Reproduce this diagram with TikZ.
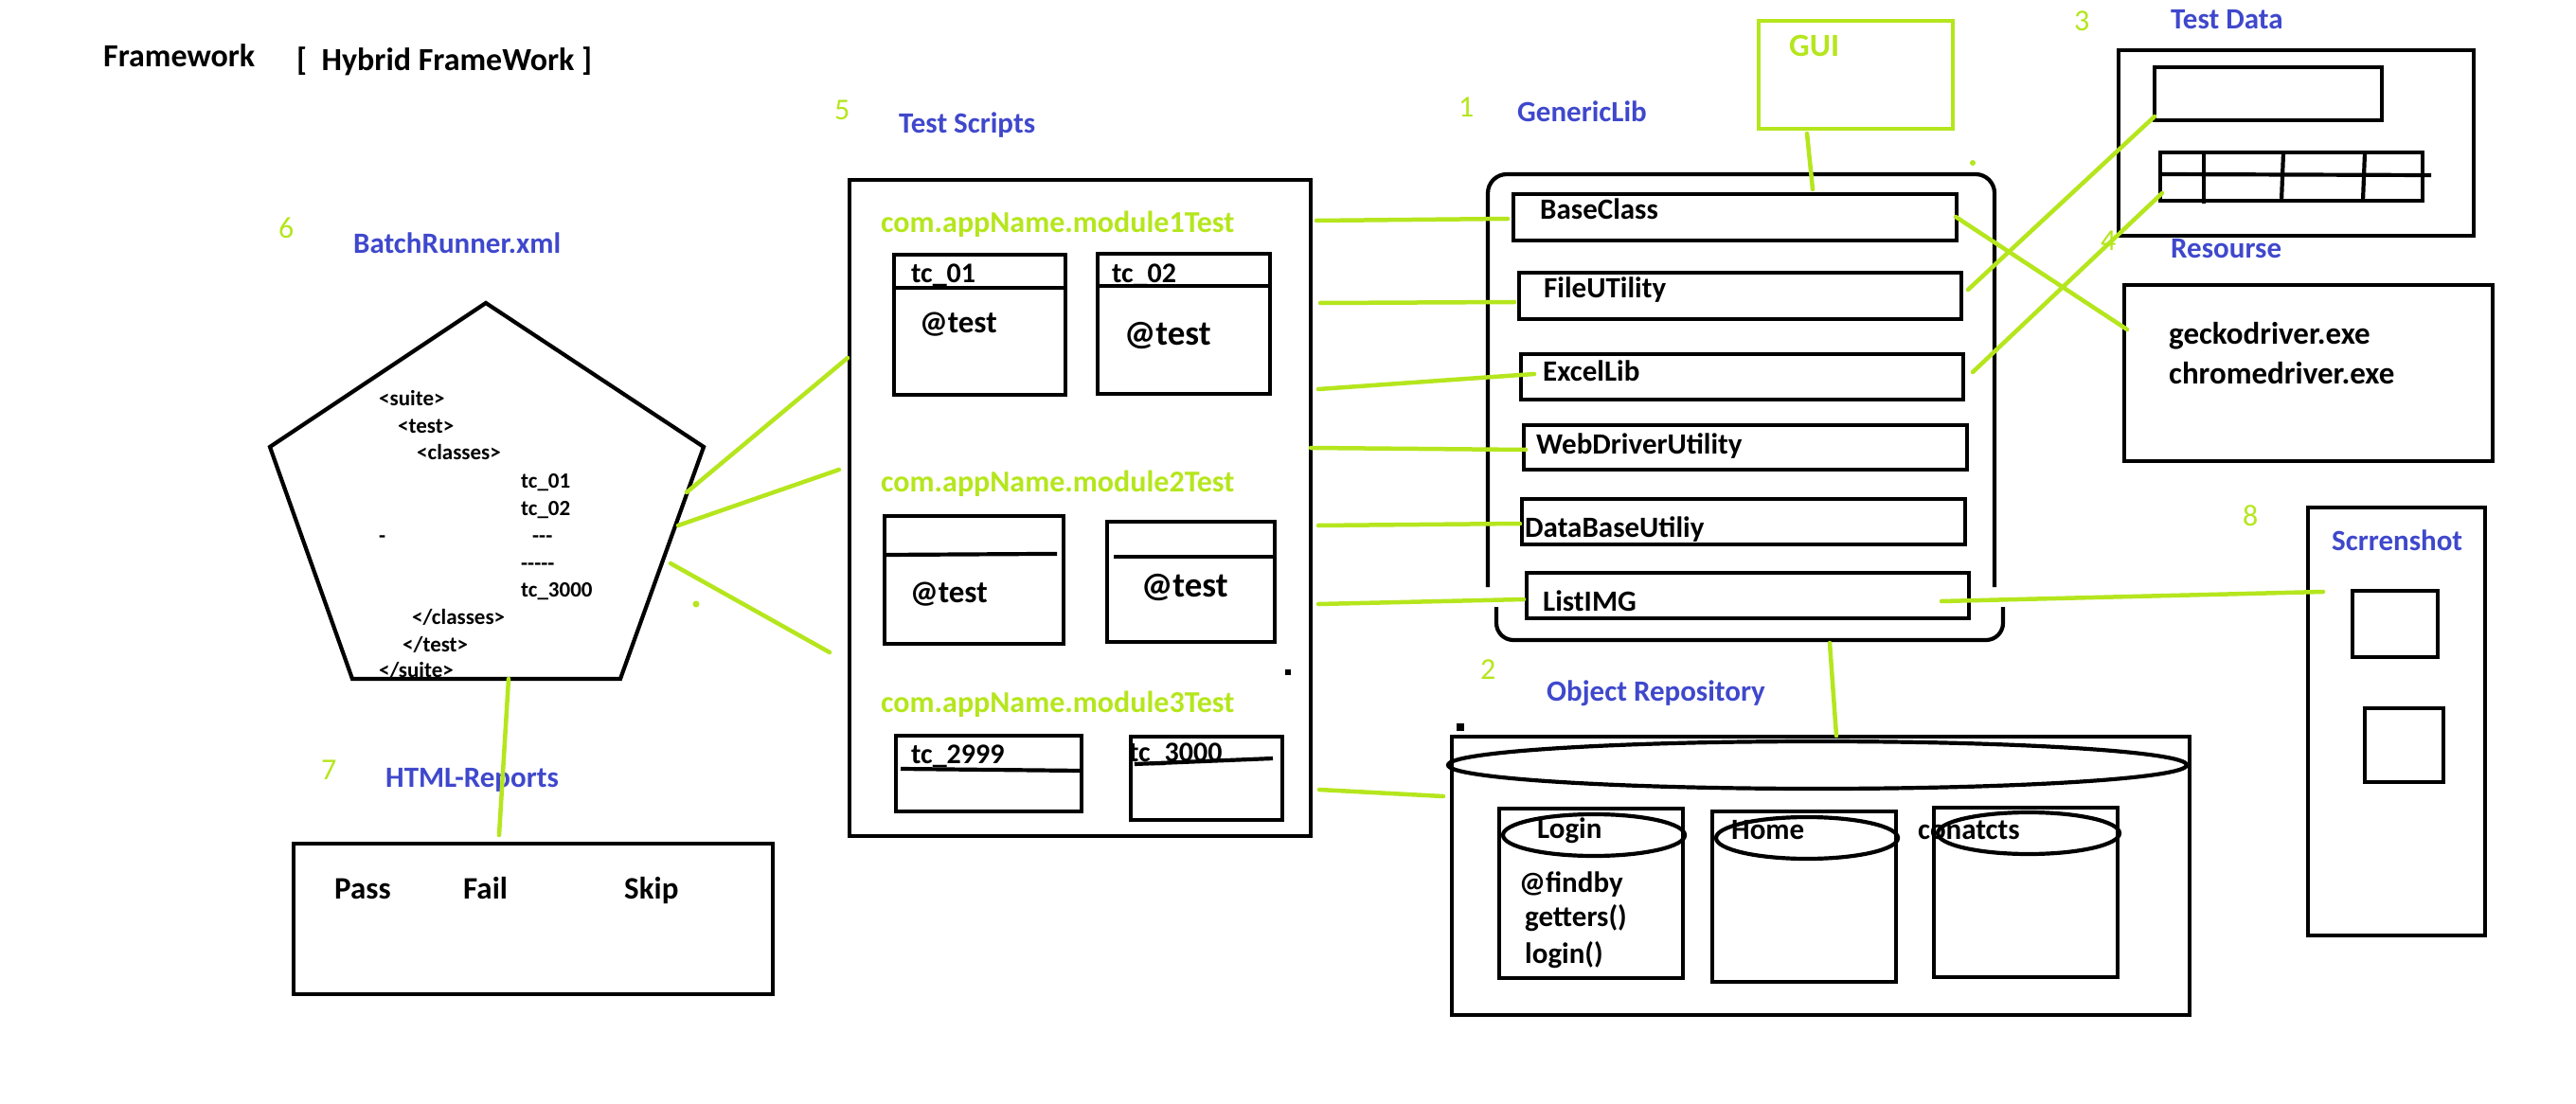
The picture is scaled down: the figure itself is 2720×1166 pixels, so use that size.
\documentclass[tikz,border=0pt]{standalone}
\usepackage{fontspec}
\setmainfont{Carlito}
\usetikzlibrary{shapes.geometric}
\definecolor{plime}{HTML}{B5E61D}
\definecolor{pindigo}{HTML}{3F48CC}
\tikzset{
  bx/.style={draw=black, line width=4.2pt, inner sep=0pt, outer sep=0pt, anchor=north west},
  gbx/.style={bx, draw=plime, line width=4.5pt},
  lnk/.style={draw=plime, line width=4.5pt, line cap=round},
  bl/.style={draw=black, line width=4.2pt},
  tx/.style={inner sep=0pt, anchor=base west, font=\fontsize{31}{31}\selectfont\bfseries},
  lbl/.style={tx, text=pindigo},
  num/.style={inner sep=0pt, anchor=base west, text=plime, font=\fontsize{32}{32}\selectfont},
  ttl/.style={tx, font=\fontsize{34}{34}\selectfont\bfseries},
  pkg/.style={tx, text=plime, font=\fontsize{32}{32}\selectfont\bfseries},
  xml/.style={tx, font=\fontsize{23}{23}\selectfont\bfseries},
  cyl/.style={draw=black, line width=4.2pt, ellipse, inner sep=0pt, outer sep=0pt},
}
\begin{document}
\begin{tikzpicture}[x=1pt,y=-1pt]
\useasboundingbox (0,0) rectangle (2720,1166);
\fill[white] (0,0) rectangle (2720,1166);

% ---------- title ----------
\node[ttl] (fw) at (109,71) {Framework};
\node[ttl] (hf) at (313,75) {[\ \ Hybrid FrameWork ]};

% ---------- numbers ----------
\node[num] (n5) at (881,127) {5};
\node[num] (n6) at (294,252) {6};
\node[num] (n1) at (1540,124) {1};
\node[num] (n3) at (2190,33) {3};
\node[num] (n4) at (2218,265) {4};
\node[num] (n2) at (1563,717) {2};
\node[num] (n7) at (339,823) {7};
\node[num] (n8) at (2368,555) {8};

% ---------- labels ----------
\node[lbl] (lts) at (949,141) {Test Scripts};
\node[lbl] (lbr) at (373,268) {BatchRunner.xml};
\node[lbl] (lgl) at (1602,129) {GenericLib};
\node[lbl] (ltd) at (2292,31) {Test Data};
\node[lbl] (lrs) at (2292,273) {Resourse};
\node[lbl] (lor) at (1633,740) {Object Repository};
\node[lbl] (lhr) at (407,831) {HTML-Reports};
\node[lbl] (lsc) at (2462,581) {Scrrenshot};

% ---------- BatchRunner pentagon ----------
\node[xml] (x1) at (400,428) {<suite>};
\node[xml] (x2) at (420,457) {<test>};
\node[xml] (x3) at (440,485) {<classes>};
\node[xml] (x4) at (550,515) {tc\_01};
\node[xml] (x5) at (550,544) {tc\_02};
\node[xml] (x6) at (400,573) {-};
\node[xml] (x7) at (562,573) {-{}-{}-};
\node[xml] (x8) at (550,602) {-{}-{}-{}-{}-};
\node[xml] (x9) at (550,630) {tc\_3000};
\node[xml] (x10) at (435,659) {</classes>};
\node[xml] (x11) at (425,688) {</test>};
\node[xml] (x12) at (400,715) {</suite>};
\coordinate (pa) at (513,320);
\coordinate (pb) at (743,472);
\coordinate (pc) at (655,717);
\coordinate (pd) at (372,717);
\coordinate (pe) at (285,472);
\draw[bl, line join=miter] (pa) -- (pb) -- (pc) -- (pd) -- (pe) -- cycle;

% ---------- HTML reports ----------
\node[bx, minimum width=506pt, minimum height=159pt] (html) at (310,891) {};
\node[tx, font=\fontsize{33}{33}\selectfont\bfseries] (pass) at (353,949) {Pass};
\node[tx, font=\fontsize{33}{33}\selectfont\bfseries] (fail) at (489,949) {Fail};
\node[tx, font=\fontsize{33}{33}\selectfont\bfseries] (skip) at (659,949) {Skip};

% ---------- Test scripts ----------
\node[bx, minimum width=487pt, minimum height=693pt] (ts) at (897,190) {};
\node[pkg] (m1) at (930,246) {com.appName.module1Test};
\node[pkg] (m2) at (930,519) {com.appName.module2Test};
\node[pkg] (m3) at (930,752) {com.appName.module3Test};

\node[bx, minimum width=181pt, minimum height=148pt] (tc1) at (944,269) {};
\draw[bl] (944,304) -- (1125,304);
\node[tx, font=\fontsize{30}{30}\selectfont\bfseries] (tc1t) at (962,299) {tc\_01};
\node[tx, font=\fontsize{33}{33}\selectfont\bfseries] (tc1a) at (971,351) {@test};

\node[bx, minimum width=182pt, minimum height=148pt] (tc2) at (1159,268) {};
\draw[bl] (1159,302) -- (1341,302);
\node[tx, font=\fontsize{30}{30}\selectfont\bfseries] (tc2t) at (1174,299) {tc\_02};
\node[tx, font=\fontsize{37}{37}\selectfont\bfseries] (tc2a) at (1187,364) {@test};

\node[bx, minimum width=189pt, minimum height=135pt] (m2a) at (934,545) {};
\draw[bl] (934,586) -- (1100,585) -- (1116,585);
\node[tx, font=\fontsize{33}{33}\selectfont\bfseries] (m2at) at (961,636) {@test};

\node[bx, minimum width=177pt, minimum height=127pt] (m2b) at (1169,551) {};
\draw[bl] (1176,588) -- (1346,588);
\node[tx, font=\fontsize{37}{37}\selectfont\bfseries] (m2bt) at (1205,630) {@test};

\node[tx, font=\fontsize{30}{30}\selectfont\bfseries] (tc29t) at (962,806) {tc\_2999};
\node[bx, minimum width=196pt, minimum height=80pt] (tc29) at (946,777) {};
\draw[bl] (951,812) -- (1142,814);

\node[tx, font=\fontsize{30}{30}\selectfont\bfseries] (tc30t) at (1192,804) {tc\_3000};
\node[bx, minimum width=160pt, minimum height=88pt] (tc30) at (1194,778) {};
\draw[bl] (1198,807) -- (1344,801);

\fill[black] (1357,707) rectangle (1363,713);

% ---------- GenericLib ----------
\node[gbx, minimum width=205pt, minimum height=114pt] (gui) at (1857,22) {};
\node[tx, text=plime, font=\fontsize{34}{34}\selectfont\bfseries] (guit) at (1889,60) {GUI};

\draw[bl, rounded corners=20pt] (1571,620) -- (1571,184) -- (2106,184) -- (2106,620);
\draw[bl, rounded corners=18pt] (1580,641) -- (1580,676) -- (2115,676) -- (2115,641);

\node[bx, minimum width=468pt, minimum height=49pt] (bc) at (1598,205) {};
\node[tx] (bct) at (1626,232) {BaseClass};
\node[bx, minimum width=467pt, minimum height=49pt] (fu) at (1604,288) {};
\node[tx] (fut) at (1630,315) {FileUTility};
\node[bx, minimum width=467pt, minimum height=48pt] (el) at (1606,374) {};
\node[tx] (elt) at (1629,402) {ExcelLib};
\node[bx, minimum width=468pt, minimum height=47pt] (wd) at (1609,449) {};
\node[tx] (wdt) at (1622,479) {WebDriverUtility};
\node[bx, minimum width=468pt, minimum height=48pt] (db) at (1607,527) {};
\node[tx] (dbt) at (1610,567) {DataBaseUtiliy};
\node[bx, minimum width=467pt, minimum height=48pt] (li) at (1612,605) {};
\node[tx] (lit) at (1629,645) {ListIMG};

% ---------- Test Data ----------
\node[bx, minimum width=375pt, minimum height=196pt] (td) at (2237,53) {};
\node[bx, minimum width=240pt, minimum height=56pt] (td1) at (2275,71) {};
\node[bx, minimum width=277pt, minimum height=51pt] (tbl) at (2281,161) {};
\draw[bl] (2281,184) -- (2567,185);
\draw[bl] (2327,161) -- (2327,215);
\draw[bl] (2411,161) -- (2409,212);
\draw[bl] (2497,161) -- (2495,212);

% ---------- Resourse ----------
\node[bx, minimum width=389pt, minimum height=186pt] (rs) at (2243,301) {};
\node[tx, font=\fontsize{33}{33}\selectfont\bfseries] (gk) at (2290,363) {geckodriver.exe};
\node[tx, font=\fontsize{33}{33}\selectfont\bfseries] (cd) at (2290,405) {chromedriver.exe};

% ---------- Object Repository ----------
\fill[black] (1538,764) rectangle (1546,772);
\node[bx, minimum width=779pt, minimum height=294pt] (orp) at (1533,778) {};
\node[cyl, minimum width=780pt, minimum height=50pt] (ortop) at (1919,808) {};

\node[tx] (lgt) at (1623,885) {Login};
\node[bx, minimum width=194pt, minimum height=179pt] (lgb) at (1583,854) {};
\node[cyl, minimum width=192pt, minimum height=44pt] (lge) at (1683,882) {};
\node[tx] (fb) at (1604,942) {@findby};
\node[tx] (gt) at (1610,978) {getters()};
\node[tx] (lg) at (1610,1017) {login()};

\node[tx] (hmt) at (1828,886) {Home};
\node[bx, minimum width=194pt, minimum height=180pt] (hmb) at (1808,857) {};
\node[cyl, minimum width=192pt, minimum height=44pt] (hme) at (1908,885) {};

\node[tx] (cnt) at (2025,886) {conatcts};
\node[bx, minimum width=194pt, minimum height=179pt] (cnb) at (2042,853) {};
\node[cyl, minimum width=192pt, minimum height=44pt] (cne) at (2142,880) {};

% ---------- Screenshot ----------
\node[bx, minimum width=187pt, minimum height=452pt] (sc) at (2437,536) {};
\node[bx, minimum width=90pt, minimum height=70pt] (sc1) at (2484,624) {};
\node[bx, minimum width=83pt, minimum height=78pt] (sc2) at (2497,748) {};

% ---------- connector end points ----------
\coordinate (a1) at (725,520);  \coordinate (b1) at (895,378);
\coordinate (a2) at (716,555);  \coordinate (b2) at (886,496);
\coordinate (a3) at (708,595);  \coordinate (b3) at (876,689);
\coordinate (a4) at (537,717);  \coordinate (b4) at (527,882);
\coordinate (c1) at (1390,233); \coordinate (d1) at (1592,231);
\coordinate (c2) at (1394,320); \coordinate (d2) at (1599,319);
\coordinate (c3) at (1392,411); \coordinate (d3) at (1620,395);
\coordinate (c4) at (1384,473); \coordinate (d4) at (1611,475);
\coordinate (c5) at (1392,555); \coordinate (d5) at (1605,553);
\coordinate (c6) at (1392,638); \coordinate (d6) at (1609,633);
\coordinate (c7) at (1393,834); \coordinate (d7) at (1524,841);
\coordinate (e1) at (2065,229); \coordinate (f1) at (2246,348);
\coordinate (e2) at (2078,306); \coordinate (f2) at (2275,123);
\coordinate (e3) at (2083,393); \coordinate (f3) at (2283,204);
\coordinate (e4) at (2050,635); \coordinate (f4) at (2453,625);
\coordinate (e5) at (1932,679); \coordinate (f5) at (1939,777);
\coordinate (g1) at (1908,141); \coordinate (h1) at (1914,200);

% ---------- connectors ----------
\draw[lnk] (a1) -- (b1);
\draw[lnk] (a2) -- (b2);
\draw[lnk] (a3) -- (b3);
\draw[lnk] (a4) -- (b4);
\draw[lnk] (c1) -- (d1);
\draw[lnk] (c2) -- (d2);
\draw[lnk] (c3) -- (d3);
\draw[lnk] (c4) -- (d4);
\draw[lnk] (c5) -- (d5);
\draw[lnk] (c6) -- (d6);
\draw[lnk] (c7) -- (d7);
\draw[lnk] (e1) -- (f1);
\draw[lnk] (e2) -- (f2);
\draw[lnk] (e3) -- (f3);
\draw[lnk] (e4) -- (f4);
\draw[lnk] (e5) -- (f5);
\draw[lnk] (g1) -- (h1);
\fill[plime] (735,638) circle (3.5pt);
\fill[plime] (2083,172) circle (3pt);
\end{tikzpicture}
\end{document}
